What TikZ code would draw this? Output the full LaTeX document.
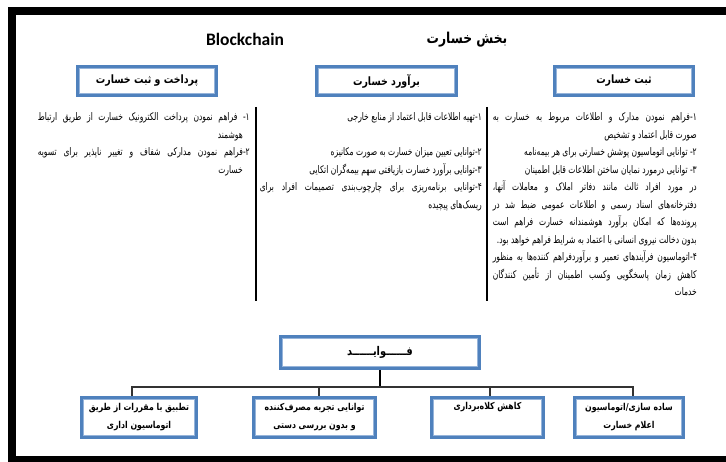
\documentclass[tikz,border=0pt]{standalone}
\usepackage{fontspec}
\TeXXeTstate=1
\newfontfamily\fa[Script=Arabic, FakeStretch=0.82]{DejaVu Sans}
\newfontfamily\fabody[Script=Arabic, FakeStretch=0.72]{DejaVu Sans}
\newfontfamily\latinb{Carlito}
\definecolor{boxblue}{RGB}{79,129,189}
\definecolor{boxlight}{RGB}{150,180,218}
% one right-to-left line: justified, right-aligned, or plain
\newcommand{\jl}[1]{\hbox to \hsize{\beginR#1\endR}}
\newcommand{\rl}[1]{\hbox to \hsize{\hfill\beginR#1\endR}}
\newcommand{\ril}[1]{\hbox to \hsize{\hfill\beginR#1\endR\hspace*{7pt}}}
\newcommand{\fl}[1]{\beginR#1\endR}
\newcommand{\colbox}[2]{\vtop{\hsize=#1\baselineskip=17.5pt\lineskiplimit=-20pt#2}}
\tikzset{
  dbox/.style={draw=boxblue, line width=3pt, fill=white, inner sep=0pt,
    align=center, font=\fa\bfseries\fontsize{9.5}{18}\selectfont},
  hdbox/.style={dbox, font=\fa\bfseries\fontsize{11.5}{14}\selectfont},
  inframe/.style={draw=boxlight, line width=1.1pt},
  rule/.style={line width=2.5pt, line cap=butt},
  link/.style={draw=black!80, line width=1.1pt},
  coltext/.style={anchor=base east, inner sep=0pt, font=\fabody\fontsize{10.5}{17.5}\selectfont},
}
\newcommand{\innerframe}[1]{%
  \draw[inframe] ([shift={(3.3pt,-3.3pt)}]#1.north west) rectangle ([shift={(-3.3pt,3.3pt)}]#1.south east);}
\begin{document}
\begin{tikzpicture}[x=1pt,y=-1pt]
\useasboundingbox (0,0) rectangle (726,462);
\clip (0,0) rectangle (726,462);
% page frame
\draw[line width=8pt] (12,11) rectangle (745,460);

% titles
\node[font=\fa\bfseries\fontsize{15}{17}\selectfont] (title) at (467,40) {\fl{بخش خسارت}};
\node[font=\latinb\bfseries\fontsize{17.5}{19}\selectfont] (bc) at (245,39) {Blockchain};

% section headers
\node[hdbox, minimum width=139pt, minimum height=29pt] (h3) at (624,81) {\fl{ثبت خسارت}};
\node[hdbox, minimum width=140pt, minimum height=29pt] (h2) at (386.5,81) {\fl{برآورد خسارت}};
\node[hdbox, minimum width=139pt, minimum height=29pt] (h1) at (147,81) {\fl{پرداخت و ثبت خسارت}};
\innerframe{h1}\innerframe{h2}\innerframe{h3}

% column separators
\coordinate (s1a) at (256,107); \coordinate (s1b) at (256,301);
\coordinate (s2a) at (487,107); \coordinate (s2b) at (487,301);
\draw[rule] (s1a) -- (s1b);
\draw[rule] (s2a) -- (s2b);

% column texts
\node[coltext] (c3) at (697,121) {\colbox{204pt}{%
\jl{۱-فراهم نمودن مدارک و اطلاعات مربوط به خسارت به}
\rl{صورت قابل اعتماد و تشخیص}
\rl{۲- توانایی اتوماسیون پوشش خسارتی برای هر بیمه‌نامه}
\rl{۳- توانایی درمورد نمایان ساختن اطلاعات قابل اطمینان}
\jl{در مورد افراد ثالث مانند دفاتر املاک و معاملات آنها،}
\jl{دفترخانه‌های اسناد رسمی و اطلاعات عمومی ضبط شد در}
\jl{پرونده‌ها که امکان برآورد هوشمندانه خسارت فراهم است}
\rl{بدون دخالت نیروی انسانی با اعتماد به شرایط فراهم خواهد بود.}
\jl{۴-اتوماسیون فرآیندهای تعمیر و برآوردفراهم کننده‌ها به منظور}
\jl{کاهش زمان پاسخگویی وکسب اطمینان از تأمین کنندگان}
\rl{خدمات}}};

\node[coltext] (c2) at (482,121) {\colbox{222pt}{%
\rl{۱-تهیه اطلاعات قابل اعتماد از منابع خارجی}
\hbox{}
\rl{۲-توانایی تعیین میزان خسارت به صورت مکانیزه}
\rl{۳-توانایی برآورد خسارت بازیافتی سهم بیمه‌گران اتکایی}
\jl{۴-توانایی برنامه‌ریزی برای چارچوب‌بندی تصمیمات افراد برای}
\rl{ریسک‌های پیچیده}}};

\node[coltext] (c1) at (250,121) {\colbox{212pt}{%
\jl{۱- فراهم نمودن پرداخت الکترونیک خسارت از طریق ارتباط}
\ril{هوشمند}
\jl{۲-فراهم نمودن مدارکی شفاف و تغییر ناپذیر برای تسویه}
\ril{خسارت}}};

% benefits tree
\node[dbox, minimum width=199pt, minimum height=32pt, font=\fa\bfseries\fontsize{12}{14}\selectfont] (fw) at (380,352.5) {\fl{فــــــوایــــــد}};
\innerframe{fw}

\node[dbox, minimum width=115pt, minimum height=40pt] (b1) at (139,417.5) {\fl{تطبیق با مقررات از طریق}\\\fl{اتوماسیون اداری}};
\node[dbox, minimum width=122pt, minimum height=40pt] (b2) at (314.5,417.5) {\fl{توانایی تجربه مصرف‌کننده}\\\fl{و بدون بررسی دستی}};
\node[dbox, minimum width=112pt, minimum height=40pt] (b3) at (487.5,417.5) {\fl{کاهش کلاه‌برداری}\\\strut};
\node[dbox, minimum width=109pt, minimum height=40pt] (b4) at (629,417.5) {\fl{ساده سازی/اتوماسیون}\\\fl{اعلام خسارت}};
\innerframe{b1}\innerframe{b2}\innerframe{b3}\innerframe{b4}

\coordinate (hub) at (380,387);
\draw[line width=1.8pt] (fw.south) -- (hub);
\draw[link] ([xshift=-7pt]b1.north) |- (hub) -| ([xshift=4pt]b4.north);
\draw[link] (hub) -| ([xshift=4.5pt]b2.north);
\draw[link] (hub) -| ([xshift=2.5pt]b3.north);
\end{tikzpicture}
\end{document}
